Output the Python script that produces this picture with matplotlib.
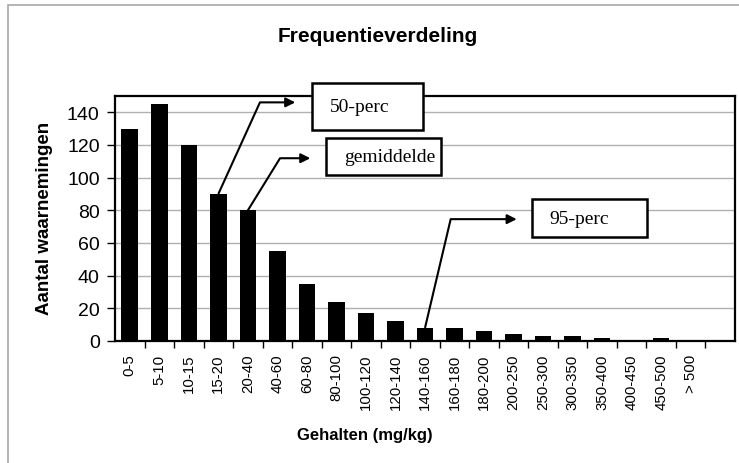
import matplotlib
matplotlib.use("Agg")
import matplotlib.pyplot as plt
from matplotlib.patches import Rectangle

categories = ["0-5", "5-10", "10-15", "15-20", "20-40", "40-60", "60-80", "80-100",
              "100-120", "120-140", "140-160", "160-180", "180-200", "200-250",
              "250-300", "300-350", "350-400", "400-450", "450-500", "> 500", ""]
counts = [130, 145, 120, 90, 80, 55, 35, 24, 17, 12, 8, 8, 6, 4, 3, 3, 2, 0, 2, 0, 0]

title = "Frequentieverdeling"
xlabel = "Gehalten (mg/kg)"
ylabel = "Aantal waarnemingen"

# annotations: (label, category index of bar, corner, arrow end, box center, box w, box h)
notes = [
    ("50-perc", 3, (4.41, 146.1), (5.70, 146.1), (8.05, 143.6), 3.76, 29.3),
    ("gemiddelde", 4, (5.09, 111.9), (6.21, 111.9), (8.60, 112.8), 3.90, 22.6),
    ("95-perc", 10, (10.87, 74.6), (13.20, 74.6), (15.57, 75.2), 3.92, 23.2),
]

W, H = 739, 464
fig = plt.figure(figsize=(W / 100, H / 100), dpi=100)
fig.patches.append(Rectangle((8 / W, -0.1), 1.2, 1.1 - 6 / H, transform=fig.transFigure,
                             fill=False, edgecolor="#a8a8a8", linewidth=1.2))

ax = fig.add_axes([115 / W, (H - 342) / H, 620 / W, 245 / H])
x = list(range(len(categories)))
ax.bar(x, counts, width=0.56, color="black", zorder=3)
ax.set_xlim(-0.5, len(categories) - 0.5)
ax.set_ylim(0, 150)
ax.set_yticks(range(0, 141, 20))
ax.yaxis.grid(True, color="#b0b0b0", linewidth=1, zorder=0)
ax.set_axisbelow(True)
for s in ax.spines.values():
    s.set_color("black")
    s.set_linewidth(1.6)

ax.set_xticks(x)
ax.set_xticklabels(categories, rotation=90, fontsize=10.8, family="Liberation Sans")
ax.tick_params(axis="x", which="major", length=0, pad=9)
ax.set_xticks([i + 0.5 for i in x[:-1]], minor=True)
ax.tick_params(axis="x", which="minor", length=5, width=1, color="black")
ax.tick_params(axis="y", length=5.5, width=1, labelsize=14, pad=5.5)
for lab in ax.get_yticklabels():
    lab.set_family("Liberation Sans")

ax.set_xlabel(xlabel, fontsize=12, fontweight="bold", family="Liberation Sans")
ax.xaxis.set_label_coords(0.403, -0.38)
ax.xaxis.label.set_va("center")
ax.set_ylabel(ylabel, fontsize=13.5, fontweight="bold", family="Liberation Sans")
ax.yaxis.set_label_coords(-0.113, 0.506)
ax.yaxis.label.set_va("center")
fig.text(378 / W, 1 - 36 / H, title, ha="center", va="center", fontsize=15,
         fontweight="bold", family="Liberation Sans")

for label, idx, corner, end, center, bw, bh in notes:
    ax.plot([idx, corner[0], end[0] - 0.3], [counts[idx], corner[1], end[1]],
            color="black", linewidth=1.5, zorder=5, clip_on=False, solid_capstyle="butt")
    ax.annotate("", xy=end, xytext=(end[0] - 0.35, end[1]),
                arrowprops=dict(arrowstyle="-|>", color="black", lw=1.5, mutation_scale=14),
                annotation_clip=False, zorder=5)
    ax.add_patch(Rectangle((center[0] - bw / 2, center[1] - bh / 2), bw, bh,
                           facecolor="white", edgecolor="black", linewidth=1.8,
                           zorder=6, clip_on=False))
    ax.text(center[0] - bw / 2 + 0.6, center[1], label, ha="left", va="center",
            fontsize=14, family="Liberation Serif", zorder=7, clip_on=False)

fig.savefig("out.png", dpi=100)
